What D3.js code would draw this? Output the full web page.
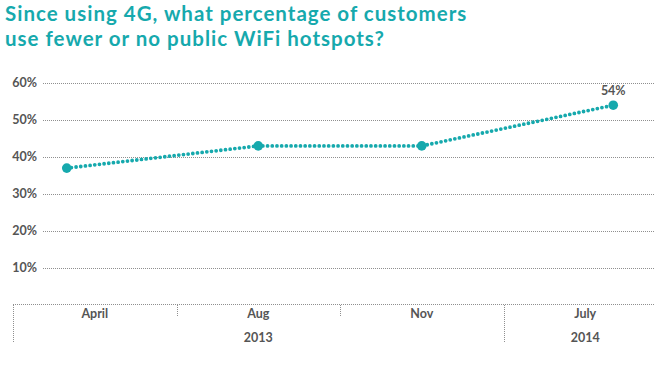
<!DOCTYPE html>
<html>
<head>
    <meta charset="utf-8">
    <title>4G WiFi hotspots</title>
    <script src="https://cdn.jsdelivr.net/npm/d3@7"></script>
    <style>
        body { margin: 0; background: #fff; }
        svg { display: block; }
    </style>
</head>
<body>
    <svg></svg>
    <script>
        const width = 667;
        const height = 365;

        // data
        const months = ["April", "Aug", "Nov", "July"];
        const years = ["2013", "2013", "2013", "2014"];
        const values = [37, 43, 43, 54];
        const yTicks = [10, 20, 30, 40, 50, 60];
        const titleLines = ["Since using 4G, what percentage of customers", "use fewer or no public WiFi hotspots?"];

        const teal = "#16a9ad";
        const grey = "#555555";
        const gridColor = "#8f8f8f";

        const plot = { left: 43, right: 655, top: 83, bottom: 305 };
        const axisBottom = 342;
        const endShift = 28;

        let svg = d3.select("svg")
            .attr("width", width)
            .attr("height", height)
            .style("font-family", "Lato, 'Open Sans', sans-serif");

        // title
        svg.append("g").selectAll("text")
            .data(titleLines)
            .enter()
            .append("text")
            .attr("x", 5)
            .attr("y", (d, i) => 21 + i * 25)
            .attr("fill", teal)
            .attr("font-size", 20.5)
            .attr("font-weight", "bold")
            .attr("letter-spacing", 1)
            .text(d => d);

        let yScale = d3.scaleLinear()
            .domain([0, 60])
            .range([plot.bottom, plot.top]);

        let xBand = d3.scaleBand()
            .domain(months)
            .range([13, width]);

        let xPoint = (d, i) => {
            let c = xBand(d) + xBand.bandwidth() / 2;
            if (i === 0) return c - endShift;
            if (i === months.length - 1) return c + endShift;
            return c;
        };

        // gridlines
        let grid = svg.append("g");
        grid.selectAll("line")
            .data(yTicks)
            .enter()
            .append("line")
            .attr("x1", plot.left)
            .attr("x2", plot.right)
            .attr("y1", d => Math.round(yScale(d)) + 0.5)
            .attr("y2", d => Math.round(yScale(d)) + 0.5)
            .attr("stroke", gridColor)
            .attr("stroke-width", 1)
            .attr("stroke-dasharray", "1,1");

        grid.selectAll("text")
            .data(yTicks)
            .enter()
            .append("text")
            .attr("x", 37)
            .attr("y", d => yScale(d))
            .attr("dy", "0.35em")
            .attr("text-anchor", "end")
            .attr("fill", grey)
            .attr("font-size", 12.5)
            .attr("font-weight", "bold")
            .text(d => d + "%");

        // bottom category axis
        let axis = svg.append("g");
        axis.append("line")
            .attr("x1", 13)
            .attr("x2", plot.right)
            .attr("y1", plot.bottom - 0.5)
            .attr("y2", plot.bottom - 0.5)
            .attr("stroke", gridColor)
            .attr("stroke-dasharray", "1,1");

        // dividers: full at year boundaries, short inside a year
        let dividers = months.map((m, i) => ({
            x: xBand(m),
            full: i === 0 || years[i] !== years[i - 1]
        }));
        axis.selectAll(".div")
            .data(dividers)
            .enter()
            .append("line")
            .attr("x1", d => Math.round(d.x) + 0.5)
            .attr("x2", d => Math.round(d.x) + 0.5)
            .attr("y1", plot.bottom)
            .attr("y2", d => d.full ? axisBottom : plot.bottom + 12)
            .attr("stroke", gridColor)
            .attr("stroke-dasharray", "1,1");

        axis.selectAll(".month")
            .data(months)
            .enter()
            .append("text")
            .attr("x", d => xBand(d) + xBand.bandwidth() / 2)
            .attr("y", 318)
            .attr("text-anchor", "middle")
            .attr("fill", grey)
            .attr("font-size", 12.5)
            .attr("font-weight", "bold")
            .text(d => d);

        let yearGroups = d3.groups(months.map((m, i) => ({ m: m, y: years[i] })), d => d.y);
        axis.selectAll(".year")
            .data(yearGroups)
            .enter()
            .append("text")
            .attr("x", d => {
                let first = xBand(d[1][0].m);
                let last = xBand(d[1][d[1].length - 1].m) + xBand.bandwidth();
                return (first + last) / 2;
            })
            .attr("y", 342)
            .attr("text-anchor", "middle")
            .attr("fill", grey)
            .attr("font-size", 12.5)
            .attr("font-weight", "bold")
            .text(d => d[0]);

        // series line
        let pts = months.map((m, i) => [xPoint(m, i), yScale(values[i])]);
        let line = d3.line();

        svg.append("path")
            .attr("d", line(pts))
            .attr("fill", "none")
            .attr("stroke", teal)
            .attr("stroke-width", 3.8)
            .attr("stroke-linecap", "round")
            .attr("stroke-dasharray", "0,4.7");

        svg.append("g").selectAll("circle")
            .data(pts)
            .enter()
            .append("circle")
            .attr("cx", d => d[0])
            .attr("cy", d => d[1])
            .attr("r", 4.8)
            .attr("fill", teal);

        // last value label
        let lastI = values.length - 1;
        svg.append("text")
            .attr("x", pts[lastI][0])
            .attr("y", pts[lastI][1] - 10)
            .attr("text-anchor", "middle")
            .attr("fill", grey)
            .attr("font-size", 12.5)
            .attr("font-weight", "bold")
            .text(values[lastI] + "%");
    </script>
</body>
</html>
